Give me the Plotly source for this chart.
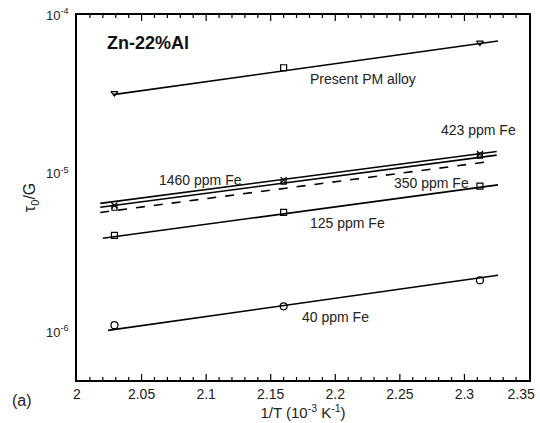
import math
import plotly.graph_objects as go

# ---- data ----
inv_T = [2.029, 2.160, 2.312]            # 1/T (10^-3 K^-1) data points

pm_pts = [3.22e-5, 4.65e-5, 6.70e-5]
fe1460_pts = [6.3e-6, 9.1e-6, 1.33e-5]
fe423_pts = [6.1e-6, 8.9e-6, 1.30e-5]
fe125_pts = [4.09e-6, 5.71e-6, 8.34e-6]
fe40_pts = [1.11e-6, 1.46e-6, 2.13e-6]

# fitted lines (end points)
pm_fit_x = [2.028, 2.326]
pm_fit_y = [3.15e-5, 6.86e-5]
fe1460_fit_x = [2.018, 2.325]
fe1460_fit_y = [6.5e-6, 1.38e-5]
fe423_fit_x = [2.018, 2.325]
fe423_fit_y = [6.15e-6, 1.31e-5]
fe350_fit_x = [2.018, 2.322]
fe350_fit_y = [5.7e-6, 1.20e-5]
fe125_fit_x = [2.020, 2.326]
fe125_fit_y = [3.92e-6, 8.5e-6]
fe40_fit_x = [2.024, 2.326]
fe40_fit_y = [1.03e-6, 2.29e-6]

x_ticks = [2, 2.05, 2.1, 2.15, 2.2, 2.25, 2.3, 2.35]
x_tick_text = ["2", "2.05", "2.1", "2.15", "2.2", "2.25", "2.3", "2.35" + "\u00a0" * 4]
y_ticks = [1e-6, 1e-5, 1e-4]
y_tick_text = ["10<sup>-6</sup>", "10<sup>-5</sup>", "10<sup>-4</sup>"]
y_minor = [m * d for d in (1e-7, 1e-6, 1e-5) for m in range(2, 10)]
x_minor = [round(2 + 0.01 * i, 2) for i in range(1, 35) if i % 5]

X_RANGE = [2, 2.35]
Y_RANGE = [-6.3, -4.0]

W, H = 540, 423
M = dict(l=77, r=11, t=15, b=43)
PW = W - M["l"] - M["r"]
PH = H - M["t"] - M["b"]

FONT = "Liberation Sans, Arial, Helvetica, sans-serif"
fig = go.Figure()

for fx, fy, dash in [
    (pm_fit_x, pm_fit_y, "solid"),
    (fe1460_fit_x, fe1460_fit_y, "solid"),
    (fe423_fit_x, fe423_fit_y, "solid"),
    (fe350_fit_x, fe350_fit_y, "dash"),
    (fe125_fit_x, fe125_fit_y, "solid"),
    (fe40_fit_x, fe40_fit_y, "solid"),
]:
    fig.add_trace(go.Scatter(x=fx, y=fy, mode="lines",
                             line=dict(color="black", width=1.6, dash=dash),
                             showlegend=False, hoverinfo="skip"))

mk = lambda sym, size=6: dict(symbol=sym, size=size, color="black",
                               line=dict(color="black", width=1.2))
fig.add_trace(go.Scatter(x=inv_T, y=pm_pts, mode="markers",
                         marker=dict(symbol=["triangle-down-open", "square-open", "triangle-down-open"],
                                     size=6, color="black", line=dict(width=1.2)),
                         showlegend=False))
fig.add_trace(go.Scatter(x=inv_T, y=fe1460_pts, mode="markers",
                         marker=mk("x-thin-open", 6), showlegend=False))
fig.add_trace(go.Scatter(x=inv_T, y=fe423_pts, mode="markers",
                         marker=mk("square-open", 5), showlegend=False))
fig.add_trace(go.Scatter(x=inv_T, y=fe125_pts, mode="markers",
                         marker=mk("square-open", 6), showlegend=False))
fig.add_trace(go.Scatter(x=inv_T, y=fe40_pts, mode="markers",
                         marker=mk("circle-open", 7), showlegend=False))

ann_font = dict(family=FONT, size=14, color="#222")
def txt(x, ly, s, font=ann_font, anchor="left"):
    return dict(x=x, y=ly, text=s, xanchor=anchor, yanchor="middle",
                showarrow=False, font=font)

annotations = [
    txt(2.0216, -4.176, "<b>Zn-22%Al</b>", dict(family=FONT, size=18, color="#111")),
    txt(2.1785, -4.403, "Present PM alloy"),
    txt(2.0618, -5.040, "1460 ppm Fe"),
    txt(2.2442, -5.059, "350 ppm Fe"),
    txt(2.1785, -5.311, "125 ppm Fe"),
    txt(2.1723, -5.903, "40 ppm Fe"),
    txt(2.3107, -4.725, "423 ppm Fe", anchor="center"),
    dict(x=-0.128, y=0.5, xref="paper", yref="paper", text="τ<sub>0</sub>/G", textangle=-90,
         showarrow=False, font=dict(family=FONT, size=16, color="#222")),
    dict(x=-0.148, y=-0.085, xref="paper", yref="paper", text="(a)", xanchor="left",
         showarrow=False, font=dict(family=FONT, size=16, color="#222")),
]

tick_line = dict(color="black", width=1.2)
shapes = [
    dict(type="line", xref="x", yref="y", x0=2.3238, y0=-4.863, x1=2.339, y1=-4.768,
         line=dict(color="black", width=1)),
]
# inward ticks on all four sides (major 6 px, minor 3 px)
for vals, L in ((x_ticks[1:-1], 6), (x_minor, 3)):
    for v in vals:
        shapes.append(dict(type="line", xref="x", yref="paper", x0=v, x1=v,
                           y0=0, y1=L / PH, line=tick_line))
        shapes.append(dict(type="line", xref="x", yref="paper", x0=v, x1=v,
                           y0=1, y1=1 - L / PH, line=tick_line))
for vals, L in ((y_ticks, 6), (y_minor, 3)):
    for v in vals:
        lv = math.log10(v)
        if not (Y_RANGE[0] < lv < Y_RANGE[1] - 1e-9):
            continue
        shapes.append(dict(type="line", xref="paper", yref="y", y0=lv, y1=lv,
                           x0=0, x1=L / PW, line=tick_line))
        shapes.append(dict(type="line", xref="paper", yref="y", y0=lv, y1=lv,
                           x0=1, x1=1 - L / PW, line=tick_line))

fig.update_layout(
    width=W, height=H,
    margin=dict(**M, autoexpand=False),
    paper_bgcolor="white", plot_bgcolor="white",
    font=dict(family=FONT, size=14, color="#222"),
    annotations=annotations, shapes=shapes,
    showlegend=False,
    xaxis=dict(
        range=X_RANGE, tickmode="array", tickvals=x_ticks, ticktext=x_tick_text,
        automargin=False, ticklabeloverflow="allow", ticks="",
        showline=True, linecolor="black", linewidth=1.5, mirror=True,
        showgrid=False, zeroline=False,
        title=dict(text="1/T (10<sup>-3</sup> K<sup>-1</sup>)", standoff=2,
                   font=dict(family=FONT, size=15, color="#222")),
        tickfont=dict(family=FONT, size=14, color="#222"),
    ),
    yaxis=dict(
        type="log", range=Y_RANGE, tickmode="array", tickvals=y_ticks, ticktext=y_tick_text,
        automargin=False, ticklabeloverflow="allow", ticks="", ticklabelstandoff=4,
        showline=True, linecolor="black", linewidth=1.5, mirror=True,
        showgrid=False, zeroline=False,
        tickfont=dict(family=FONT, size=13, color="#222"),
    ),
)

fig.write_html("out.html")
